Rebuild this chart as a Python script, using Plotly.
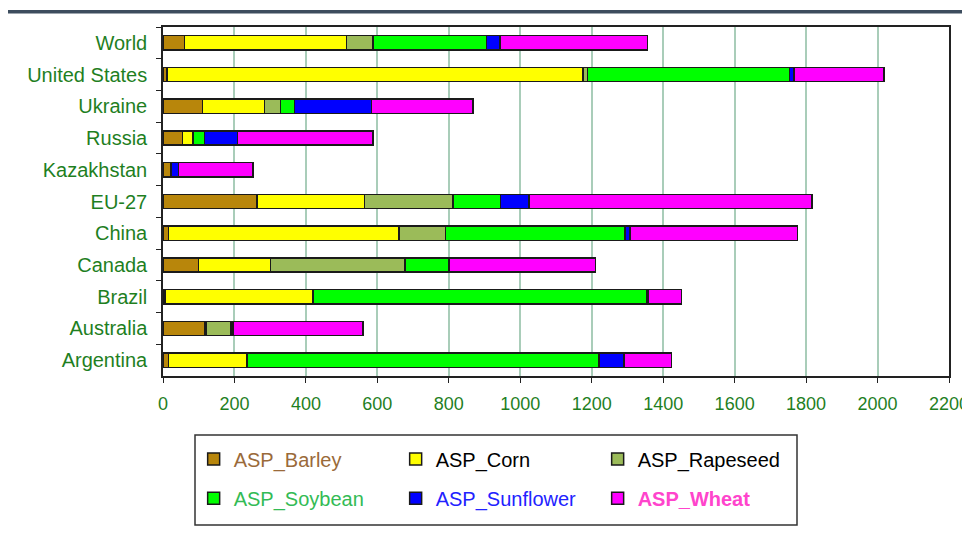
import plotly.graph_objects as go

countries = ["World", "United States", "Ukraine", "Russia", "Kazakhstan", "EU-27",
             "China", "Canada", "Brazil", "Australia", "Argentina"]

barley =    [60, 11, 111, 54, 21, 263, 15, 99, 6, 116, 15]
corn =      [453, 1165, 173, 29, 2, 301, 646, 202, 414, 5, 220]
rapeseed =  [75, 12, 45, 3, 0, 248, 129, 377, 0, 70, 0]
soybean =   [317, 565, 39, 30, 0, 133, 503, 123, 933, 0, 986]
sunflower = [38, 13, 215, 92, 21, 80, 14, 0, 5, 5, 69]
wheat =     [413, 252, 285, 380, 208, 791, 469, 410, 93, 364, 133]

series = [
    ("ASP_Barley", barley, "#B8860B", "<span style='color:#9a6a3a'>ASP_Barley</span>"),
    ("ASP_Corn", corn, "#FFFF00", "<span style='color:#000000'>ASP_Corn</span>"),
    ("ASP_Rapeseed", rapeseed, "#9BBB59", "<span style='color:#000000'>ASP_Rapeseed</span>"),
    ("ASP_Soybean", soybean, "#00FF00", "<span style='color:#33bb55'>ASP_Soybean</span>"),
    ("ASP_Sunflower", sunflower, "#0000FF", "<span style='color:#2222ff'>ASP_Sunflower</span>"),
    ("ASP_Wheat", wheat, "#FF00FF", "<span style='color:#ff44cc'><b>ASP_Wheat</b></span>"),
]

x_ticks = [0, 200, 400, 600, 800, 1000, 1200, 1400, 1600, 1800, 2000, 2200]

fig = go.Figure()
for i, (key, vals, color, label) in enumerate(series):
    fig.add_trace(go.Bar(
        y=countries, x=vals, orientation="h", name=label,
        marker=dict(color=color, line=dict(color="#1a1a1a", width=1.5)),
        width=0.45,
        legend="legend" if i < 3 else "legend2",
    ))

green = "#1f7f1f"
font = "Liberation Sans, Arial, sans-serif"

fig.update_layout(
    width=962, height=520,
    margin=dict(l=155, r=21, t=19, b=152, autoexpand=False),
    barmode="stack",
    plot_bgcolor="white", paper_bgcolor="white",
    font=dict(family=font),
    xaxis=dict(
        range=[0, 2200], tickvals=x_ticks, ticktext=[str(v) for v in x_ticks],
        showgrid=True, gridcolor="#a9cdb9", gridwidth=2,
        showline=True, linecolor="#222222", linewidth=1.5, mirror=True,
        ticks="outside", ticklen=5, tickcolor="#222222",
        tickfont=dict(size=18, color=green, family=font),
        ticklabelstandoff=6, ticklabeloverflow="allow",
        zeroline=False, fixedrange=True,
    ),
    yaxis=dict(
        categoryorder="array", categoryarray=countries,
        autorange=False, range=[10.5, -0.5],
        showgrid=False,
        showline=True, linecolor="#222222", linewidth=1.5, mirror=True,
        ticks="outside", ticklen=5, tickcolor="#222222", tickson="boundaries",
        tickfont=dict(size=20, color=green, family=font),
        ticklabelstandoff=10,
        fixedrange=True,
    ),
    legend=dict(
        orientation="h", x=0.039, y=-0.238, xanchor="left", yanchor="middle",
        entrywidth=157, entrywidthmode="pixels",
        font=dict(size=20, family=font), bgcolor="rgba(0,0,0,0)", borderwidth=0,
        traceorder="normal",
    ),
    legend2=dict(
        orientation="h", x=0.039, y=-0.35, xanchor="left", yanchor="middle",
        entrywidth=157, entrywidthmode="pixels",
        font=dict(size=20, family=font), bgcolor="rgba(0,0,0,0)", borderwidth=0,
        traceorder="normal",
    ),
    shapes=[
        dict(type="rect", xref="paper", yref="paper",
             x0=(195 - 163) / 786, x1=(797 - 163) / 786,
             y0=(376 - 525) / 349, y1=(376 - 435) / 349,
             line=dict(color="#333333", width=1.5), fillcolor="rgba(0,0,0,0)"),
        dict(type="rect", xref="paper", yref="paper",
             x0=-0.25, x1=1.05,
             y0=(376 - 13.5) / 349, y1=(376 - 10) / 349,
             line=dict(width=0), fillcolor="#3d4d5e"),
    ],
)

fig.write_html("out.html")
